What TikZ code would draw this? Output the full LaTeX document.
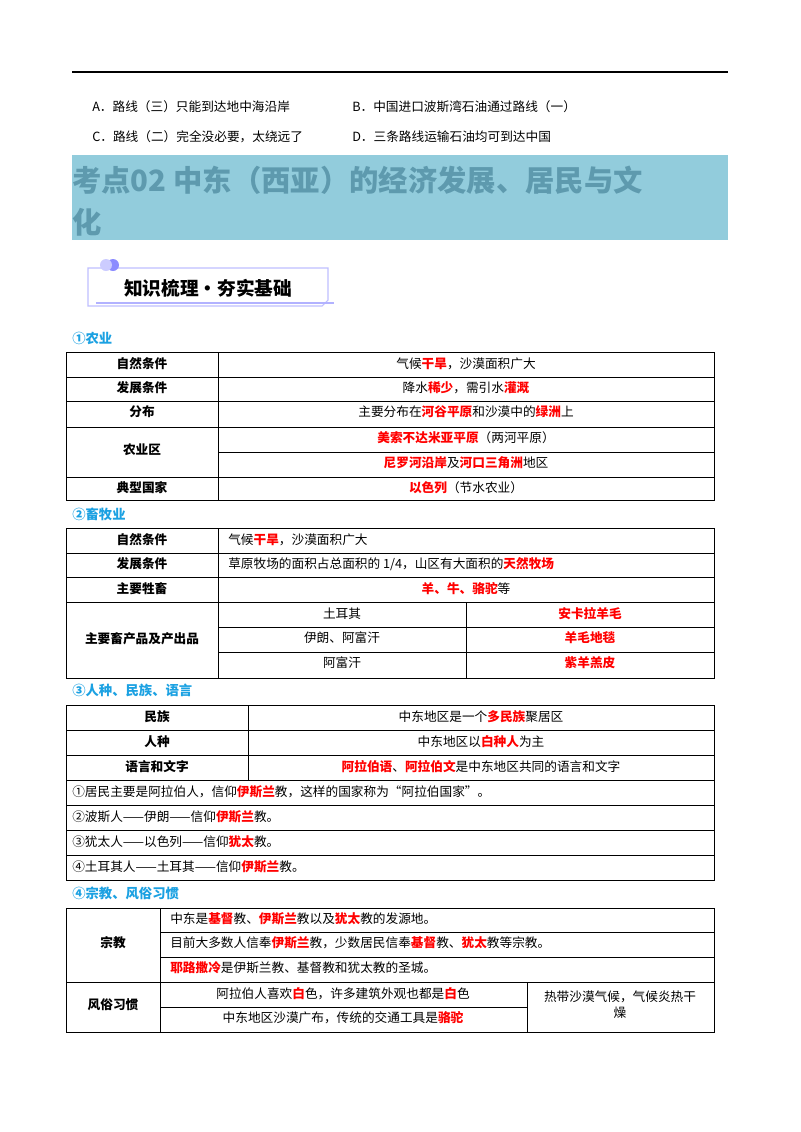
\documentclass[tikz,border=0pt]{standalone}
\usepackage{fontspec}
\setmainfont{Noto Sans CJK SC}
\definecolor{ttl}{HTML}{5E9AAE}
\definecolor{ttlbg}{HTML}{92CCDC}
\definecolor{sec}{HTML}{1BA1E2}
\newcommand{\R}[1]{{\bfseries\color{red}#1}}
\tikzset{t/.style={font=\fontsize{9.5}{11}\selectfont,inner sep=0pt},
 tl/.style={t,anchor=west},
 h/.style={t,font=\fontsize{9.5}{11}\selectfont\bfseries},
 sc/.style={t,anchor=west,text=sec,font=\fontsize{10}{12}\selectfont\bfseries},
 g/.style={line width=0.6pt}}
\begin{document}
\begin{tikzpicture}[x=0.75pt,y=-0.75pt]
\useasboundingbox (0,0) rectangle (800,1132);
\fill[white] (0,0) rectangle (800,1132);
\draw[line width=1.2pt] (72,72) -- (728,72);
\node[tl] (oa) at (92,107) {A．路线（三）只能到达地中海沿岸};
\node[tl] (ob) at (352,107) {B．中国进口波斯湾石油通过路线（一）};
\node[tl] (oc) at (92,137) {C．路线（二）完全没必要，太绕远了};
\node[tl] (od) at (352,137) {D．三条路线运输石油均可到达中国};
\fill[ttlbg] (72,155) rectangle (728,240);
\node[anchor=west,inner sep=0pt,text=ttl,font=\fontsize{22}{26}\selectfont\bfseries] (ti1) at (72,180) {考点02 中东（西亚）的经济发展、居民与文};
\node[anchor=west,inner sep=0pt,text=ttl,font=\fontsize{22}{26}\selectfont\bfseries] (ti2) at (72,222) {化};
% badge
\draw[blue!25,line width=0.8pt] (88,268) -- (328,268) -- (328,300) -- (322,306) -- (88,306) -- cycle;
\draw[blue!30,line width=1pt] (96,303) -- (334,303);
\fill[blue!45] (113,265) circle (6);
\fill[blue!20] (106,265) circle (6);
\node[anchor=center,inner sep=0pt,font=\fontsize{14}{16}\selectfont\bfseries] (bd) at (208,288) {知识梳理·夯实基础};
% sec 1
\node[sc] (s1) at (72,338) {①农业};
\draw[g] (66,352) rectangle (714,500);
\foreach \y in {377,401,427,477} \draw[g] (66,\y) -- (714,\y);
\draw[g] (218,452) -- (714,452);
\draw[g] (218,352) -- (218,500);
\node[h] (a1) at (142,364) {自然条件};
\node[t] (a2) at (466,364) {气候\R{干旱}，沙漠面积广大};
\node[h] (a3) at (142,388) {发展条件};
\node[t] (a4) at (466,388) {降水\R{稀少}，需引水\R{灌溉}};
\node[h] (a5) at (142,412) {分布};
\node[t] (a6) at (466,412) {主要分布在\R{河谷平原}和沙漠中的\R{绿洲}上};
\node[h] (a7) at (142,450) {农业区};
\node[t] (a8) at (466,438) {\R{美索不达米亚平原}（两河平原）};
\node[t] (a9) at (466,463) {\R{尼罗河沿岸}及\R{河口三角洲}地区};
\node[h] (a10) at (142,488) {典型国家};
\node[t] (a11) at (466,488) {\R{以色列}（节水农业）};
% sec 2
\node[sc] (s2) at (72,514) {②畜牧业};
\draw[g] (66,528) rectangle (714,678);
\foreach \y in {553,577,602} \draw[g] (66,\y) -- (714,\y);
\foreach \y in {627,652} \draw[g] (218,\y) -- (714,\y);
\draw[g] (218,528) -- (218,678);
\draw[g] (466,602) -- (466,678);
\node[h] (b1) at (142,540) {自然条件};
\node[tl] (b2) at (228,540) {气候\R{干旱}，沙漠面积广大};
\node[h] (b3) at (142,564) {发展条件};
\node[tl] (b4) at (228,564) {草原牧场的面积占总面积的 1/4，山区有大面积的\R{天然牧场}};
\node[h] (b5) at (142,589) {主要牲畜};
\node[t] (b6) at (466,589) {\R{羊、牛、骆驼}等};
\node[h] (b7) at (142,639) {主要畜产品及产出品};
\node[t] (b8) at (342,614) {土耳其};
\node[t] (b9) at (590,614) {\R{安卡拉羊毛}};
\node[t] (b10) at (342,638) {伊朗、阿富汗};
\node[t] (b11) at (590,638) {\R{羊毛地毯}};
\node[t] (b12) at (342,663) {阿富汗};
\node[t] (b13) at (590,663) {\R{紫羊羔皮}};
% sec 3
\node[sc] (s3) at (72,690) {③人种、民族、语言};
\draw[g] (66,705) rectangle (714,880);
\foreach \y in {730,755,780,805,830,855} \draw[g] (66,\y) -- (714,\y);
\draw[g] (248,705) -- (248,780);
\node[h] (c1) at (157,717) {民族};
\node[t] (c2) at (481,717) {中东地区是一个\R{多民族}聚居区};
\node[h] (c3) at (157,742) {人种};
\node[t] (c4) at (481,742) {中东地区以\R{白种人}为主};
\node[h] (c5) at (157,767) {语言和文字};
\node[t] (c6) at (481,767) {\R{阿拉伯语}、\R{阿拉伯文}是中东地区共同的语言和文字};
\node[tl] (c7) at (72,792) {①居民主要是阿拉伯人，信仰\R{伊斯兰}教，这样的国家称为“阿拉伯国家”。};
\node[tl] (c8) at (72,817) {②波斯人——伊朗——信仰\R{伊斯兰}教。};
\node[tl] (c9) at (72,842) {③犹太人——以色列——信仰\R{犹太}教。};
\node[tl] (c10) at (72,867) {④土耳其人——土耳其——信仰\R{伊斯兰}教。};
% sec 4
\node[sc] (s4) at (72,893) {④宗教、风俗习惯};
\draw[g] (66,908) rectangle (714,1032);
\foreach \y in {932,957} \draw[g] (160,\y) -- (714,\y);
\draw[g] (66,982) -- (714,982);
\draw[g] (160,1007) -- (527,1007);
\draw[g] (160,908) -- (160,1032);
\draw[g] (527,982) -- (527,1032);
\node[h] (d1) at (113,943) {宗教};
\node[h] (d2) at (113,1005) {风俗习惯};
\node[tl] (d3) at (170,919) {中东是\R{基督}教、\R{伊斯兰}教以及\R{犹太}教的发源地。};
\node[tl] (d4) at (170,943) {目前大多数人信奉\R{伊斯兰}教，少数居民信奉\R{基督}教、\R{犹太}教等宗教。};
\node[tl] (d5) at (170,968) {\R{耶路撒冷}是伊斯兰教、基督教和犹太教的圣城。};
\node[t] (d6) at (343,994) {阿拉伯人喜欢\R{白}色，许多建筑外观也都是\R{白}色};
\node[t] (d7) at (343,1018) {中东地区沙漠广布，传统的交通工具是\R{骆驼}};
\node[t] (d8) at (620,997) {热带沙漠气候，气候炎热干};
\node[t] (d9) at (620,1013) {燥};
\end{tikzpicture}
\end{document}
